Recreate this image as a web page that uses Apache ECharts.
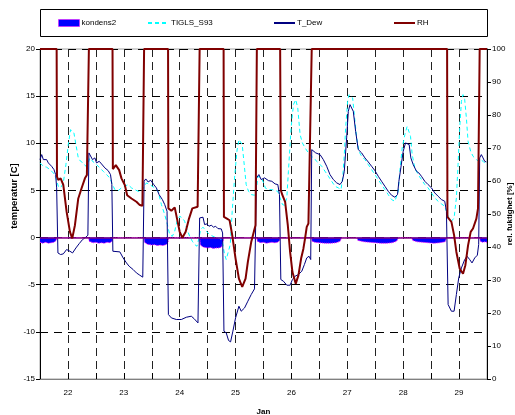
<!DOCTYPE html>
<html>
<head>
<meta charset="utf-8">
<script src="https://cdn.jsdelivr.net/npm/echarts@6/dist/echarts.min.js"></script>
<style>
  html, body { margin: 0; padding: 0; background: #fff; }
  #chart { width: 515px; height: 415px; }
</style>
</head>
<body>
<div id="chart"></div>
<script>
// Time axis in days of January; x tick labels shown at whole days
const dayTicks = [22, 23, 24, 25, 26, 27, 28, 29];

// Relative humidity [%] (right axis), [day, value]
const rh = [
  [21.5,100],[21.798,100],[21.804,61.3],[21.827,60.3],[21.869,60.8],[21.917,58.8],[21.976,50.7],
  [22.036,44.6],[22.077,42.6],[22.125,46.6],[22.185,54.7],[22.244,57.8],[22.304,60.8],[22.339,61.8],
  [22.375,100],[22.798,100],[22.804,63.6],[22.857,64.8],[22.917,63.3],[22.958,60.8],[23.018,58.8],
  [23.060,55.7],[23.137,54.7],[23.226,53.7],[23.286,52.7],[23.333,52.5],
  [23.363,100],[23.792,100],[23.798,51.7],[23.851,51.0],[23.911,52.0],[23.952,48.6],[24.0,44.6],
  [24.048,42.8],[24.107,44.6],[24.167,48.6],[24.226,51.7],[24.321,52.2],
  [24.357,100],[24.786,100],[24.792,49.1],[24.845,48.6],[24.893,48.1],[24.940,43.6],[25.0,36.5],
  [25.060,30.4],[25.119,27.9],[25.179,30.4],[25.220,35.5],[25.280,41.5],[25.327,44.6],[25.357,46.6],
  [25.381,100],[25.798,100],[25.810,57.2],[25.839,55.7],[25.887,53.7],[25.935,46.6],[25.976,38.5],
  [26.018,32.4],[26.077,28.9],[26.125,31.4],[26.173,36.5],[26.214,39.5],[26.244,42.6],[26.274,46.1],
  [26.304,47.1],[26.339,46.8],
  [26.363,100],[28.786,100],[28.792,49.1],[28.815,48.6],[28.863,47.6],[28.911,43.6],[28.952,38.5],
  [29.012,33.4],[29.071,31.9],[29.113,34.5],[29.161,40.5],[29.208,44.6],[29.250,45.6],[29.310,48.6],
  [29.339,51.7],[29.369,100],[29.5,100]
];

// Dew point temperature [C], [day, value]
const tDew = [
  [21.5,8.27],[21.530,8.80],[21.560,8.27],[21.589,8.09],[21.619,8.27],[21.649,7.92],[21.679,7.74],
  [21.708,7.56],[21.750,7.21],[21.780,6.68],[21.798,5.27],[21.821,-1.63],[21.869,-1.80],[21.917,-1.73],
  [21.976,-1.27],[22.036,-1.45],[22.083,-1.63],[22.143,-1.10],[22.202,-0.64],[22.262,-0.21],
  [22.321,0.04],[22.357,0.25],[22.375,8.98],[22.405,8.80],[22.440,8.27],[22.482,8.45],[22.512,7.92],
  [22.560,8.09],[22.601,7.81],[22.661,7.39],[22.720,7.10],[22.762,6.68],[22.786,5.62],[22.804,-1.45],
  [22.929,-1.52],[22.988,-2.16],[23.048,-2.69],[23.095,-3.04],[23.167,-3.39],[23.226,-3.75],
  [23.286,-3.99],[23.339,-4.20],[23.363,5.97],[23.393,6.22],[23.435,5.90],[23.482,6.08],[23.536,5.62],
  [23.583,5.27],[23.631,4.56],[23.690,4.03],[23.732,3.50],[23.774,2.79],[23.798,-8.16],[23.851,-8.52],
  [23.940,-8.69],[24.030,-8.69],[24.119,-8.45],[24.208,-8.34],[24.256,-8.59],[24.327,-9.05],
  [24.357,2.08],[24.387,1.91],[24.417,2.16],[24.446,1.38],[24.488,1.45],[24.524,1.20],[24.565,1.31],
  [24.607,1.10],[24.643,1.20],[24.685,0.95],[24.744,0.92],[24.768,0.49],[24.792,-9.93],[24.833,-10.11],
  [24.875,-10.92],[24.911,-11.06],[24.952,-9.93],[25.0,-8.52],[25.060,-7.28],[25.101,-7.81],
  [25.161,-7.46],[25.220,-6.75],[25.280,-6.04],[25.339,-5.44],[25.375,6.33],[25.417,6.68],
  [25.458,6.15],[25.518,6.33],[25.542,6.15],[25.589,6.04],[25.649,5.97],[25.708,5.69],[25.756,5.62],
  [25.786,4.56],[25.810,-4.45],[25.857,-4.63],[25.917,-5.05],[25.976,-5.05],[26.018,-4.45],
  [26.065,-4.10],[26.125,-3.92],[26.185,-3.57],[26.232,-2.86],[26.274,-2.16],[26.315,-1.98],
  [26.345,-2.33],[26.363,9.33],[26.393,9.51],[26.435,8.98],[26.470,8.80],[26.512,8.80],[26.571,8.27],
  [26.631,7.56],[26.690,6.68],[26.750,6.15],[26.810,5.80],[26.869,5.62],[26.911,5.97],[26.946,7.03],
  [26.988,10.57],[27.018,13.39],[27.048,14.10],[27.077,14.10],[27.107,13.39],[27.149,11.27],
  [27.196,9.33],[27.256,8.98],[27.315,8.45],[27.375,8.02],[27.435,7.56],[27.494,7.10],[27.554,6.50],
  [27.613,5.97],[27.673,5.44],[27.732,4.91],[27.792,4.49],[27.851,4.28],[27.899,4.56],[27.923,5.97],
  [27.958,7.39],[28.0,9.15],[28.042,10.04],[28.077,10.21],[28.107,9.86],[28.137,8.45],[28.179,7.74],
  [28.208,7.74],[28.238,7.03],[28.280,6.86],[28.327,6.50],[28.387,5.97],[28.446,5.62],[28.506,5.27],
  [28.565,4.74],[28.625,4.38],[28.685,4.03],[28.744,3.85],[28.774,2.79],[28.804,-7.10],[28.863,-7.81],
  [28.911,-7.81],[28.952,-6.04],[28.994,-4.28],[29.042,-3.22],[29.101,-2.33],[29.143,-1.98],
  [29.190,-2.33],[29.232,-2.69],[29.280,-2.16],[29.327,-1.87],[29.351,-0.74],[29.369,8.45],
  [29.399,8.80],[29.429,8.45],[29.458,8.09],[29.488,8.02],[29.5,8.0]
];

// Surface temperature TIGLS_S93 [C], [day, value]
const tigls = [
  [21.5,7.92],[21.560,7.56],[21.619,7.46],[21.679,7.21],[21.738,6.86],[21.786,6.33],[21.827,5.44],
  [21.869,5.27],[21.917,5.80],[21.964,7.74],[22.006,9.86],[22.048,11.45],[22.077,11.63],[22.107,11.10],
  [22.143,9.86],[22.185,8.45],[22.226,8.09],[22.274,7.92],[22.321,7.56],[22.363,7.92],[22.393,8.45],
  [22.452,8.02],[22.512,7.74],[22.571,7.39],[22.631,7.03],[22.690,6.68],[22.750,6.33],[22.798,5.62],
  [22.839,5.09],[22.899,4.98],[22.958,5.27],[23.018,5.44],[23.077,5.62],[23.137,5.27],[23.196,5.09],
  [23.256,4.91],[23.315,4.91],[23.405,5.80],[23.464,5.62],[23.554,5.27],[23.613,4.91],[23.673,3.50],
  [23.732,2.44],[23.780,1.38],[23.821,0.32],[23.869,0.14],[23.911,0.67],[23.952,1.73],[24.0,2.26],
  [24.048,2.08],[24.089,1.73],[24.131,0.85],[24.179,0.14],[24.226,-0.39],[24.268,-0.74],[24.310,-0.92],
  [24.345,-0.04],[24.375,0.85],[24.417,1.10],[24.476,0.67],[24.536,0.32],[24.595,0.14],[24.655,-0.04],
  [24.714,-0.04],[24.762,-0.39],[24.804,-1.80],[24.833,-2.33],[24.863,-2.16],[24.905,-0.74],
  [24.940,2.79],[24.982,6.33],[25.024,9.15],[25.060,10.39],[25.089,10.57],[25.119,9.86],[25.149,8.09],
  [25.190,5.62],[25.232,4.91],[25.280,4.56],[25.339,4.49],[25.369,4.91],[25.399,6.50],[25.458,6.33],
  [25.518,5.62],[25.530,5.27],[25.589,5.09],[25.649,5.09],[25.708,4.98],[25.756,4.91],[25.798,4.20],
  [25.839,3.50],[25.875,3.43],[25.917,4.20],[25.946,7.03],[25.994,11.63],[26.036,14.10],[26.077,14.63],
  [26.113,13.75],[26.155,10.92],[26.196,10.04],[26.244,9.51],[26.304,8.98],[26.363,8.62],[26.423,8.27],
  [26.482,7.92],[26.542,7.56],[26.601,7.03],[26.661,6.50],[26.720,5.97],[26.780,5.44],[26.839,5.27],
  [26.887,5.09],[26.917,6.33],[26.946,8.80],[26.970,11.63],[27.006,14.45],[27.030,15.16],[27.065,15.23],
  [27.095,14.81],[27.125,13.04],[27.167,10.57],[27.208,9.15],[27.256,8.62],[27.315,8.27],[27.375,7.74],
  [27.435,7.21],[27.494,6.68],[27.554,6.15],[27.613,5.62],[27.673,5.09],[27.732,4.56],[27.792,4.03],
  [27.851,3.85],[27.881,3.67],[27.911,4.91],[27.940,7.03],[27.982,9.51],[28.030,10.92],[28.071,11.80],
  [28.101,11.98],[28.131,10.74],[28.161,8.80],[28.208,7.39],[28.268,6.68],[28.327,6.15],[28.387,5.62],
  [28.446,5.27],[28.506,4.74],[28.565,4.20],[28.625,3.85],[28.685,3.57],[28.744,3.32],[28.774,2.79],
  [28.815,2.08],[28.863,1.73],[28.911,2.08],[28.952,4.20],[28.982,7.74],[29.012,11.63],[29.042,14.45],
  [29.071,15.16],[29.101,14.63],[29.131,12.69],[29.161,10.21],[29.208,9.15],[29.250,8.62],[29.310,8.27],
  [29.351,8.09],[29.387,8.27],[29.429,8.09],[29.488,7.74],[29.5,7.7]
];

// Condensation indicator kondens2 (small negative values while RH is saturated), [day, value]
const kondens2 = [
  [21.5,-0.5],[21.55,-0.6],[21.6,-0.5],[21.65,-0.6],[21.7,-0.55],[21.75,-0.5],[21.79,-0.3],[21.8,0],
  [22.37,0],[22.38,-0.4],[22.45,-0.55],[22.5,-0.5],[22.55,-0.6],[22.6,-0.55],[22.65,-0.6],[22.7,-0.5],
  [22.75,-0.55],[22.79,-0.4],[22.8,0],
  [23.36,0],[23.37,-0.5],[23.42,-0.7],[23.5,-0.8],[23.55,-0.75],[23.6,-0.85],[23.65,-0.8],[23.7,-0.85],
  [23.75,-0.75],[23.79,-0.6],[23.8,0],
  [24.36,0],[24.37,-0.8],[24.42,-1.0],[24.5,-1.1],[24.55,-1.05],[24.6,-1.15],[24.65,-1.1],[24.7,-1.1],
  [24.75,-1.0],[24.78,-0.8],[24.79,0],
  [25.38,0],[25.39,-0.4],[25.45,-0.55],[25.5,-0.5],[25.55,-0.6],[25.6,-0.55],[25.65,-0.5],[25.7,-0.55],
  [25.75,-0.5],[25.79,-0.3],[25.8,0],
  [26.36,0],[26.37,-0.4],[26.42,-0.5],[26.5,-0.55],[26.6,-0.6],[26.7,-0.6],[26.8,-0.55],[26.87,-0.4],[26.9,0],
  [27.17,0],[27.19,-0.3],[27.3,-0.45],[27.4,-0.5],[27.5,-0.55],[27.6,-0.6],[27.7,-0.6],[27.8,-0.55],
  [27.88,-0.4],[27.92,0],
  [28.15,0],[28.17,-0.3],[28.25,-0.45],[28.35,-0.5],[28.45,-0.55],[28.55,-0.6],[28.65,-0.55],[28.75,-0.45],[28.78,0],
  [29.37,0],[29.38,-0.4],[29.42,-0.5],[29.46,-0.45],[29.5,-0.5]
];

const FONT = '"Liberation Sans", Arial, sans-serif';
const chart = echarts.init(document.getElementById('chart'), null, { renderer: 'canvas' });

function legendItem(name, left, extra) {
  return Object.assign({
    data: [name],
    left: left, top: 19,
    itemWidth: 21, itemHeight: 7, itemGap: 0,
    padding: 0,
    itemStyle: { opacity: 0 },
    textStyle: { fontFamily: FONT, fontSize: 8, color: '#000', padding: [0, 0, 0, -3] },
    selectedMode: false
  }, extra || {});
}

const option = {
  animation: false,
  backgroundColor: '#fff',
  graphic: [{
    type: 'rect',
    shape: { x: 40.5, y: 9.5, width: 447, height: 27 },
    style: { fill: 'none', stroke: '#000', lineWidth: 1 },
    z: 0
  }],
  legend: [
    legendItem('kondens2', 58, {
      itemStyle: {},
      data: [{ name: 'kondens2', icon: 'rect',
        itemStyle: { color: '#0000ff', borderColor: '#ff00ff', borderWidth: 1, borderType: 'dotted', opacity: 1 } }]
    }),
    legendItem('TIGLS_S93', 147),
    legendItem('T_Dew', 273),
    legendItem('RH', 393)
  ],
  grid: {
    left: 40, right: 28, top: 49, bottom: 36,
    outerBoundsMode: 'none', containLabel: false,
    show: true, borderColor: '#a0a0a0', borderWidth: 1, backgroundColor: 'transparent'
  },
  xAxis: {
    type: 'value', min: 21.5, max: 29.5, interval: 0.5,
    name: 'Jan', nameLocation: 'middle', nameGap: 29, nameMoveOverlap: false,
    nameTextStyle: { fontFamily: FONT, fontSize: 8, fontWeight: 'bold', color: '#000' },
    axisLine: { onZero: false, lineStyle: { color: '#808080', width: 1 } },
    axisTick: { inside: true, length: 6, lineStyle: { color: '#000' } },
    axisLabel: {
      fontFamily: FONT, fontSize: 8, color: '#000', margin: 10,
      formatter: v => (dayTicks.indexOf(v) >= 0 ? String(v) : '')
    },
    splitLine: { show: true, lineStyle: { color: '#222', type: [8, 5], width: 1 } }
  },
  yAxis: [{
    type: 'value', min: -15, max: 20, interval: 5, position: 'left',
    name: 'temperatur [C]', nameLocation: 'middle', nameRotate: 90, nameGap: 21, nameMoveOverlap: false,
    nameTextStyle: { fontFamily: FONT, fontSize: 9.5, fontWeight: 'bold', color: '#000', padding: [0, 0, 0, 36] },
    axisLine: { show: true, lineStyle: { color: '#000', width: 1 } },
    axisTick: { show: true, length: 4, lineStyle: { color: '#000' } },
    axisLabel: { fontFamily: FONT, fontSize: 8, color: '#000', margin: 5 },
    splitLine: { show: true, lineStyle: { color: '#000', type: [8, 6], width: 1 } }
  }, {
    type: 'value', min: 0, max: 100, interval: 10, position: 'right',
    name: 'rel. fuktighet [%]', nameLocation: 'middle', nameRotate: 90, nameGap: 19, nameMoveOverlap: false,
    nameTextStyle: { fontFamily: FONT, fontSize: 8, fontWeight: 'bold', color: '#000' },
    axisLine: { show: true, lineStyle: { color: '#000', width: 1 } },
    axisTick: { show: true, length: 4, lineStyle: { color: '#000' } },
    axisLabel: { fontFamily: FONT, fontSize: 8, color: '#000', margin: 5 },
    splitLine: { show: false }
  }],
  series: [{
    name: 'kondens2', type: 'line', yAxisIndex: 0, data: kondens2,
    symbol: 'none', lineStyle: { color: '#ff00ff', width: 1, type: 'dotted' },
    itemStyle: { color: '#0000ff' },
    areaStyle: { color: '#0000ff', opacity: 1 },
    markLine: {
      silent: true, symbol: 'none', label: { show: false },
      lineStyle: { color: '#800080', width: 1.5, type: 'solid' },
      data: [{ yAxis: 0 }]
    },
    z: 2
  }, {
    name: 'TIGLS_S93', type: 'line', yAxisIndex: 0, data: tigls,
    symbol: 'none', itemStyle: { color: '#00ffff' },
    lineStyle: { color: '#00ffff', width: 1, type: [4, 3] }, z: 3
  }, {
    name: 'T_Dew', type: 'line', yAxisIndex: 0, data: tDew,
    symbol: 'none', itemStyle: { color: '#000080' },
    lineStyle: { color: '#000080', width: 1 }, z: 4
  }, {
    name: 'RH', type: 'line', yAxisIndex: 1, data: rh,
    symbol: 'none', itemStyle: { color: '#800000' },
    lineStyle: { color: '#800000', width: 2 }, z: 5
  }]
};
chart.setOption(option);
</script>
</body>
</html>
